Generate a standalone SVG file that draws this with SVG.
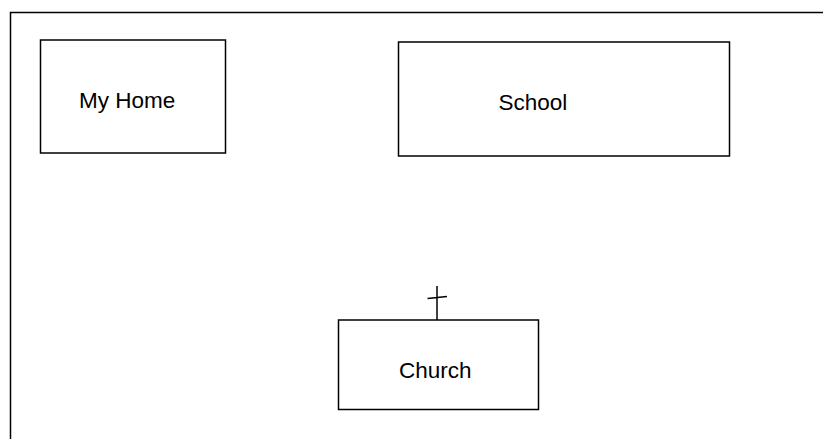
<svg xmlns="http://www.w3.org/2000/svg" width="823" height="439" viewBox="0 0 823 439">
<style>
.box{fill:#fff;stroke:#000;stroke-width:1.5}
.lbl{font-family:"Liberation Sans",Arial,sans-serif;font-size:22.5px;fill:#000}
.ln{stroke:#000;stroke-width:1.5;fill:none}
</style>
<rect width="823" height="439" fill="#fff"/>
<g id="frame"><path class="ln" d="M10.5,439 V12.5 H823"/></g>
<g id="home"><rect class="box" x="40.5" y="40" width="185" height="113"/><text class="lbl" x="79" y="108">My Home</text></g>
<g id="school"><rect class="box" x="398.5" y="42" width="331" height="114"/><text class="lbl" x="498.5" y="110">School</text></g>
<g id="church"><rect class="box" x="338.5" y="320" width="200" height="89.5"/><text class="lbl" x="399" y="377.5">Church</text></g>
<g id="connectors"><path class="ln" d="M437,286 V320 M427.5,298.5 L447,296.5"/></g>
</svg>
